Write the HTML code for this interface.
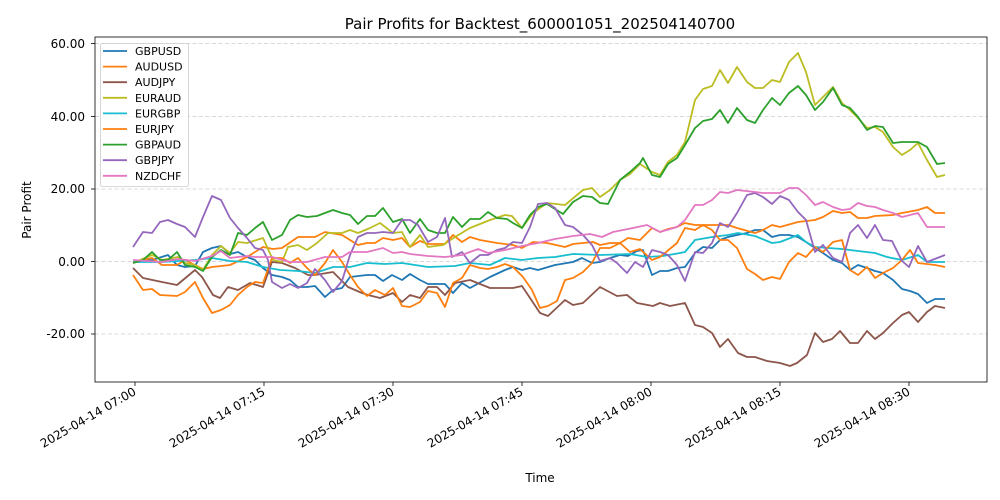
<!DOCTYPE html>
<html><head><meta charset="utf-8"><style>
html,body{margin:0;padding:0;background:#fff;}
svg{display:block;font-family:"DejaVu Sans","Liberation Sans",sans-serif;}
</style></head><body>
<svg width="1000" height="500" viewBox="0 0 1000 500" xmlns="http://www.w3.org/2000/svg">
<rect width="1000" height="500" fill="#fff"/>
<text x="540" y="29" font-size="15" text-anchor="middle" fill="#000">Pair Profits for Backtest_600001051_202504140700</text>
<g stroke="#ccc" stroke-width="0.8" stroke-dasharray="4,2.5">
<line x1="95" y1="43.5" x2="987" y2="43.5"/>
<line x1="95" y1="116.5" x2="987" y2="116.5"/>
<line x1="95" y1="189" x2="987" y2="189"/>
<line x1="95" y1="261.5" x2="987" y2="261.5"/>
<line x1="95" y1="334" x2="987" y2="334"/>
</g>
<g font-size="12" text-anchor="end" fill="#000">
<text x="85" y="48">60.00</text>
<text x="85" y="121">40.00</text>
<text x="85" y="193">20.00</text>
<text x="85" y="266">0.00</text>
<text x="85" y="338">-20.00</text>
</g>
<g stroke="#000" stroke-width="0.8">
<line x1="91" y1="43.5" x2="95" y2="43.5"/><line x1="91" y1="116.5" x2="95" y2="116.5"/><line x1="91" y1="189" x2="95" y2="189"/><line x1="91" y1="261.5" x2="95" y2="261.5"/><line x1="91" y1="334" x2="95" y2="334"/>
<line x1="135" y1="382" x2="135" y2="386"/><line x1="264" y1="382" x2="264" y2="386"/><line x1="393" y1="382" x2="393" y2="386"/><line x1="522" y1="382" x2="522" y2="386"/><line x1="651" y1="382" x2="651" y2="386"/><line x1="780" y1="382" x2="780" y2="386"/><line x1="909" y1="382" x2="909" y2="386"/>
</g>
<g font-size="12" text-anchor="end" fill="#000">
<text transform="translate(137,394) rotate(-30)">2025-04-14 07:00</text>
<text transform="translate(266,394) rotate(-30)">2025-04-14 07:15</text>
<text transform="translate(395,394) rotate(-30)">2025-04-14 07:30</text>
<text transform="translate(524,394) rotate(-30)">2025-04-14 07:45</text>
<text transform="translate(653,394) rotate(-30)">2025-04-14 08:00</text>
<text transform="translate(782,394) rotate(-30)">2025-04-14 08:15</text>
<text transform="translate(911,394) rotate(-30)">2025-04-14 08:30</text>
</g>
<text x="540" y="482" font-size="12" text-anchor="middle">Time</text>
<text transform="translate(31,210) rotate(-90)" font-size="12" text-anchor="middle">Pair Profit</text>
<g fill="none" stroke-width="1.8" stroke-linejoin="round">
<polyline stroke="#1f77b4" points="133,262 152,260 168,255 177,265 185,267 195,266 203,252 212,248 221,246 230,254 238,252 247,257 255,260 263,268 272,275 282,277 290,280 298,287 307,287 315,286 325,297 333,290 342,288 350,277 367,275 375,275 383,281 392,275 402,280 410,274 420,280 428,284 445,284 453,293 462,283 470,288 490,277 505,270 513,267 522,270 530,268 538,270 555,265 573,262 582,258 592,263 600,262 610,258 620,255 628,256 637,251 643,250 652,275 660,271 668,271 677,268 685,267 695,253 703,247 712,248 720,240 728,237 737,235 747,233 755,230 763,230 772,237 780,235 789,235 798,237 806,242 815,248 823,253 833,260 842,263 850,270 858,265 867,268 875,271 883,273 893,280 902,289 910,291 918,294 927,303 935,299 945,299"/>
<polyline stroke="#ff7f0e" points="133,262 152,258 162,265 177,265 185,260 203,269 212,267 230,265 247,257 263,247 273,249 282,248 298,237 315,237 325,232 342,235 358,245 367,243 375,243 383,238 393,240 402,238 410,247 420,241 428,244 445,244 453,235 462,242 470,237 480,240 497,243 513,245 522,248 533,242 547,243 565,247 573,244 583,243 593,242 600,245 610,243 620,243 628,238 640,240 652,228 660,232 668,229 677,227 685,223 695,225 712,225 728,225 737,228 755,233 763,230 772,225 780,227 798,222 815,220 823,217 833,211 842,213 850,212 858,218 867,218 875,216 893,215 902,213 918,210 927,207 935,213 945,213"/>
<polyline stroke="#8c564b" points="133,268 143,278 162,282 177,285 195,270 202,277 213,295 220,298 228,287 238,290 250,283 263,287 272,262 282,263 295,268 308,275 315,275 333,272 348,287 362,293 368,295 380,298 393,293 402,302 410,295 420,298 428,287 437,287 445,295 455,283 470,280 490,288 513,288 522,286 540,313 548,316 565,300 573,305 583,303 600,287 617,296 627,295 637,303 653,306 660,303 670,306 685,303 695,325 703,327 712,333 720,347 728,339 738,353 747,357 755,357 767,361 780,363 790,366 797,363 807,355 815,333 823,342 832,339 840,331 850,343 858,343 867,331 875,339 883,333 893,323 902,315 909,312 918,322 927,312 935,306 945,308"/>
<polyline stroke="#bcbd22" points="133,263 152,255 162,260 178,257 185,263 195,265 203,270 212,255 221,246 230,253 238,242 247,243 263,238 273,260 282,262 288,247 298,245 307,250 317,243 328,233 342,233 350,230 358,233 370,228 380,223 393,233 402,232 410,247 420,235 428,247 443,245 455,237 470,228 490,220 505,215 512,216 522,228 533,213 547,203 565,205 583,190 592,188 600,197 610,190 620,180 630,174 640,164 652,172 660,175 668,162 677,155 685,142 695,100 703,89 712,86 720,70 728,83 737,67 747,82 755,88 763,88 772,80 780,82 789,62 798,53 806,72 815,105 823,97 833,87 842,103 850,110 858,118 867,128 875,127 883,132 893,147 902,155 910,150 918,143 927,160 937,177 945,175"/>
<polyline stroke="#17becf" points="133,262 162,262 195,260 212,258 230,261 247,262 263,267 280,270 298,271 315,273 333,267 350,267 367,263 385,264 402,263 428,267 455,266 470,263 490,265 505,258 522,260 538,258 555,257 573,254 600,255 630,254 647,257 663,256 680,253 685,252 695,240 712,237 728,235 738,233 755,236 772,243 780,242 798,235 806,242 815,247 842,249 858,251 875,253 887,257 902,260 918,255 927,262 945,262"/>
<polyline stroke="#ff7f0e" points="133,275 143,290 152,289 160,295 177,296 185,292 195,282 203,298 212,313 221,310 230,305 238,295 247,287 255,282 263,283 272,258 282,258 290,263 298,258 307,268 315,275 325,263 333,250 342,262 350,275 358,287 367,296 375,290 385,295 393,288 402,306 410,307 420,302 428,291 437,293 445,307 453,283 462,278 470,265 480,268 488,269 497,267 505,264 513,267 523,277 532,290 540,308 548,306 557,301 565,280 573,278 583,272 592,263 600,248 610,248 620,243 630,252 640,249 652,260 660,257 677,243 685,228 695,230 703,225 712,230 720,240 728,240 737,248 747,269 755,274 763,280 772,277 780,279 789,262 798,253 806,257 815,247 823,252 833,242 842,240 850,270 858,275 867,267 875,278 883,273 893,268 902,260 910,250 918,263 935,265 945,267"/>
<polyline stroke="#2ca02c" points="133,263 143,260 152,252 160,260 168,260 177,252 185,265 195,267 203,271 212,257 221,250 230,255 238,233 247,235 255,228 263,222 272,240 282,235 290,220 298,215 307,217 317,216 325,213 333,210 342,213 350,215 358,224 367,216 375,216 383,208 393,222 402,219 410,233 420,219 428,230 437,233 445,233 453,217 462,227 470,219 480,219 488,212 497,218 507,219 513,223 522,228 530,215 538,207 547,204 555,209 563,214 573,202 583,196 592,197 600,203 608,204 620,180 630,172 640,163 643,158 652,175 660,177 668,164 677,158 685,145 695,128 703,121 712,119 720,110 728,123 737,108 747,120 755,123 763,110 772,98 780,105 789,93 798,86 806,95 815,110 823,102 833,88 842,105 850,108 858,117 867,130 875,126 883,127 893,143 902,142 918,142 927,147 937,164 945,163"/>
<polyline stroke="#9467bd" points="133,247 143,232 152,233 160,222 168,220 177,224 185,227 195,237 203,217 212,196 221,200 230,218 238,228 247,238 255,248 263,250 268,260 272,282 282,288 290,284 298,288 307,283 315,269 325,280 333,292 342,281 350,255 358,237 367,233 375,233 383,232 393,233 402,220 410,220 418,225 428,242 437,237 445,218 452,257 462,252 470,263 480,255 488,255 497,250 505,248 513,242 522,243 530,227 538,204 547,203 555,208 565,225 573,227 583,235 592,245 600,261 610,258 617,263 627,273 635,262 643,267 652,250 660,252 668,255 677,265 685,281 695,252 703,253 712,243 720,223 728,227 737,213 747,195 755,193 763,197 772,204 780,196 789,200 798,212 806,220 815,252 823,245 833,258 842,262 850,233 858,225 867,238 875,225 883,240 892,241 902,261 909,267 918,246 927,262 945,255"/>
<polyline stroke="#e377c2" points="133,260 162,262 178,259 195,261 212,256 221,251 230,258 238,257 247,256 255,257 272,257 290,262 307,262 325,257 342,257 350,252 367,252 383,248 393,253 402,252 410,254 428,256 445,257 462,255 478,249 488,253 505,250 522,246 538,243 555,239 573,236 590,234 602,237 613,232 633,228 647,225 660,232 677,227 685,220 695,205 703,205 712,200 720,192 728,193 737,190 755,192 763,193 780,193 789,188 798,188 806,195 815,205 823,202 833,207 842,210 850,209 858,203 867,206 875,207 883,210 893,213 902,217 918,213 927,227 945,227"/>
</g>
<rect x="95" y="37" width="892" height="345" fill="none" stroke="#000" stroke-width="0.8"/>
<rect x="100.5" y="43.5" width="88" height="143" fill="#fff" fill-opacity="0.8" stroke="#ccc" stroke-width="0.8" rx="2"/>
<g stroke-width="1.8">
<line x1="103" y1="51" x2="127" y2="51" stroke="#1f77b4"/>
<line x1="103" y1="66.6" x2="127" y2="66.6" stroke="#ff7f0e"/>
<line x1="103" y1="82.2" x2="127" y2="82.2" stroke="#8c564b"/>
<line x1="103" y1="97.8" x2="127" y2="97.8" stroke="#bcbd22"/>
<line x1="103" y1="113.4" x2="127" y2="113.4" stroke="#17becf"/>
<line x1="103" y1="129" x2="127" y2="129" stroke="#ff7f0e"/>
<line x1="103" y1="144.6" x2="127" y2="144.6" stroke="#2ca02c"/>
<line x1="103" y1="160.2" x2="127" y2="160.2" stroke="#9467bd"/>
<line x1="103" y1="175.8" x2="127" y2="175.8" stroke="#e377c2"/>
</g>
<g font-size="11" fill="#000">
<text x="135" y="55">GBPUSD</text>
<text x="135" y="70.6">AUDUSD</text>
<text x="135" y="86.2">AUDJPY</text>
<text x="135" y="101.8">EURAUD</text>
<text x="135" y="117.4">EURGBP</text>
<text x="135" y="133">EURJPY</text>
<text x="135" y="148.6">GBPAUD</text>
<text x="135" y="164.2">GBPJPY</text>
<text x="135" y="179.8">NZDCHF</text>
</g>
</svg>
</body></html>
